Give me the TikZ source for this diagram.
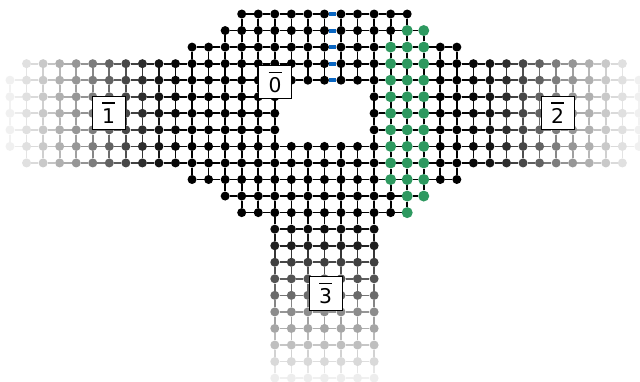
\documentclass[tikz,border=0pt]{standalone}
\usepackage{fontspec}
\setmainfont{DejaVu Sans}
\usetikzlibrary{backgrounds}
\definecolor{dotgreen}{HTML}{2E9960}
\definecolor{edgeblue}{HTML}{0A66C2}
\newcommand\setfade[2]{%
  \ifnum#2>12
    \pgfmathsetmacro\fv{{95,88,75,67,58,45,35,25,15,7}[#2-13]}%
  \else\ifnum#1<11
    \pgfmathsetmacro\fv{{6,12,21,31,41,51,61,72,82,92,97}[#1]}%
  \else\ifnum#1>27
    \pgfmathsetmacro\fv{{97,92,82,72,61,51,41,31,21,12,6}[#1-28]}%
  \else
    \def\fv{100}%
  \fi\fi\fi}
\newcommand\barred[1]{\vbox{\hsize=13pt\hrule height 1.5pt\vskip 4.4pt\hbox to 13pt{\hss #1\hss}}}
\tikzset{
  gridpt/.style={circle,inner sep=0pt,minimum size=9pt,draw=none},
  greenpt/.style={circle,inner sep=0pt,minimum size=11pt,draw=none,fill=dotgreen},
  gridedge/.style={line width=1.7pt},
  blueedge/.style={line width=4pt,edgeblue},
  labelbox/.style={draw=black,fill=white,line width=1pt,minimum size=33.3pt,inner sep=0pt,font=\fontsize{20.3pt}{21pt}\selectfont},
}
\begin{document}
\begin{tikzpicture}[x=1pt,y=-1pt]
\useasboundingbox (0,0) rectangle (640,381);
\begin{pgfonlayer}{background}
  \fill[white] (0,0) rectangle (640,381);
\end{pgfonlayer}
% grid points
\foreach \j/\a/\b in {0/14/24,1/13/25,2/11/27,3/1/37,4/0/38,5/0/38,6/0/38,7/0/38,8/0/38,9/1/37,10/11/27,11/13/25,12/14/24,13/16/22,14/16/22,15/16/22,16/16/22,17/16/22,18/16/22,19/16/22,20/16/22,21/16/22,22/16/22}{
  \foreach \i in {\a,...,\b}{
    \pgfmathtruncatemacro\hole{(\j>=5)&&(\j<=7)&&(\i>=17)&&(\i<=21)?1:0}
    \pgfmathtruncatemacro\isgreen{((\j>=2)&&(\j<=10)&&(\i>=23)&&(\i<=25))||(((\j==1)||(\j==11))&&(\i>=24)&&(\i<=25))||((\j==12)&&(\i==24))?1:0}
    \ifnum\hole=0
      \setfade{\i}{\j}
      \ifnum\isgreen=1
        \node[greenpt] (n-\i-\j) at ({10+16.55*\i},{14+16.55*\j}) {};
      \else
        \node[gridpt,fill=black!\fv!white] (n-\i-\j) at ({10+16.55*\i},{14+16.55*\j}) {};
      \fi
    \fi
  }
}
% connectors
\begin{pgfonlayer}{background}
\foreach \j in {0,...,22}{
  \foreach \i in {0,...,38}{
    \ifcsname pgf@sh@ns@n-\i-\j\endcsname
      \setfade{\i}{\j}\let\fa\fv
      \pgfmathtruncatemacro\k{\i+1}
      \pgfmathtruncatemacro\m{\j+1}
      \ifcsname pgf@sh@ns@n-\k-\j\endcsname
        \setfade{\k}{\j}
        \pgfmathsetmacro\favg{(\fa+\fv)/2*(0.85+0.15*(\fa+\fv)/200)}
        \pgfmathtruncatemacro\isblue{(\i==19)&&(\j<=4)?1:0}
        \ifnum\isblue=1
          \draw[blueedge] (n-\i-\j) -- (n-\k-\j);
        \else
          \draw[gridedge,draw=black!\favg!white] (n-\i-\j) -- (n-\k-\j);
        \fi
      \fi
      \ifcsname pgf@sh@ns@n-\i-\m\endcsname
        \setfade{\i}{\m}
        \pgfmathsetmacro\favg{(\fa+\fv)/2*(0.85+0.15*(\fa+\fv)/200)}
        \draw[gridedge,draw=black!\favg!white] (n-\i-\j) -- (n-\i-\m);
      \fi
    \fi
  }
}
\end{pgfonlayer}
% labels
\node[labelbox] (lab0) at (275,82.2) {\barred{0}};
\node[labelbox] (lab1) at (108.7,112.7) {\barred{1}};
\node[labelbox] (lab2) at (557.7,112.7) {\barred{2}};
\node[labelbox] (lab3) at (325.7,293.4) {\barred{3}};
\end{tikzpicture}
\end{document}
